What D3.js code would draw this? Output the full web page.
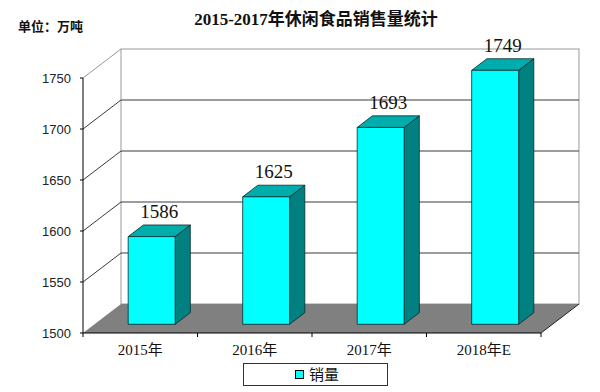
<!DOCTYPE html>
<meta charset="utf-8">
<style>
body { margin: 0; background: #fff; }
text { font-family: "Liberation Serif", "Noto Sans CJK SC", serif; }
.ytick { font-family: "Liberation Sans", Arial, sans-serif; font-size: 13px; fill: #222; }
.xlab { font-size: 15px; fill: #111; }
.val { font-size: 19px; fill: #111; }
</style>
<body>
<svg width="600" height="392"></svg>
<script src="https://cdn.jsdelivr.net/npm/d3@7/dist/d3.min.js"></script>
<script>
var years = ["2015年", "2016年", "2017年", "2018年E"];
var sales = [1586, 1625, 1693, 1749];
var yTicks = [1500, 1550, 1600, 1650, 1700, 1750];

var svg = d3.select("svg");

// front plane of the 3d box, depth shift to the back wall
var plotL = 83, plotR = 541, plotB = 333, plotT = 78;
var DX = 38, DY = -29;
var z0 = 0.3, z1 = 0.7; // bar depth inside the floor

var x = d3.scaleBand().domain(years).range([plotL, plotR]);
var y = d3.scaleLinear().domain([1500, 1750]).range([plotB, plotT]);

function pt(px, py, z) { return [px + DX * z, py + DY * z]; }
function poly(pts) { return pts.map(function(p) { return p.join(","); }).join(" "); }

// back wall
svg.append("rect")
    .attr("x", plotL + DX).attr("y", plotT + DY)
    .attr("width", plotR - plotL).attr("height", plotB - plotT)
    .attr("fill", "#fff").attr("stroke", "#999");

// gridlines on back wall and left wall
var grid = svg.append("g");
yTicks.slice(1, -1).forEach(function(v) {
  grid.append("line")
      .attr("x1", plotL + DX).attr("x2", plotR + DX)
      .attr("y1", y(v) + DY).attr("y2", y(v) + DY)
      .attr("stroke", "#3a3a3a");
});
yTicks.slice(1).forEach(function(v) {
  grid.append("line")
      .attr("x1", plotL).attr("y1", y(v))
      .attr("x2", plotL + DX).attr("y2", y(v) + DY)
      .attr("stroke", v === 1750 ? "#999" : "#3a3a3a");
});

// floor
svg.append("polygon")
    .attr("points", poly([[plotL, plotB], [plotR, plotB], pt(plotR, plotB, 1), pt(plotL, plotB, 1)]))
    .attr("fill", "#808080");
svg.append("line")
    .attr("x1", plotR).attr("y1", plotB)
    .attr("x2", plotR + DX).attr("y2", plotB + DY)
    .attr("stroke", "#222");

// axes
svg.append("line").attr("x1", plotL).attr("x2", plotL).attr("y1", plotB).attr("y2", plotT).attr("stroke", "#000");
svg.append("line").attr("x1", plotL).attr("x2", plotR).attr("y1", plotB).attr("y2", plotB).attr("stroke", "#000");
yTicks.forEach(function(v) {
  svg.append("line").attr("x1", plotL - 3).attr("x2", plotL).attr("y1", y(v)).attr("y2", y(v)).attr("stroke", "#000");
  svg.append("text").attr("class", "ytick")
      .attr("x", 71).attr("y", y(v) + 5)
      .attr("text-anchor", "end").text(v);
});
years.forEach(function(c) {
  svg.append("line").attr("x1", x(c) + x.bandwidth()).attr("x2", x(c) + x.bandwidth())
      .attr("y1", plotB).attr("y2", plotB + 4).attr("stroke", "#000");
});
svg.append("line").attr("x1", plotL).attr("x2", plotL).attr("y1", plotB).attr("y2", plotB + 4).attr("stroke", "#000");

// bars
var bw = x.bandwidth() * 0.41;
var bars = svg.append("g").selectAll("g").data(years).enter().append("g");
bars.each(function(c, i) {
  var g = d3.select(this);
  var cx = x(c) + x.bandwidth() / 2;
  var xl = cx - bw / 2, xr = cx + bw / 2;
  var yt = y(sales[i]), yb = y(1500);
  var fl = pt(xl, yt, z0), fr = pt(xr, yt, z0), flb = pt(xl, yb, z0), frb = pt(xr, yb, z0);
  var bl = pt(xl, yt, z1), br = pt(xr, yt, z1), brb = pt(xr, yb, z1);
  g.append("polygon").attr("points", poly([fr, br, brb, frb]))
      .attr("fill", "#008080").attr("stroke", "#0a2a2a").attr("stroke-width", 0.8);
  g.append("polygon").attr("points", poly([fl, bl, br, fr]))
      .attr("fill", "#00adad").attr("stroke", "#0a2a2a").attr("stroke-width", 0.8);
  g.append("polygon").attr("points", poly([fl, fr, frb, flb]))
      .attr("fill", "#00ffff").attr("stroke", "#0a2a2a").attr("stroke-width", 0.8);
  g.append("text").attr("class", "val")
      .attr("x", (fl[0] + br[0]) / 2).attr("y", bl[1] - 7)
      .attr("text-anchor", "middle").text(sales[i]);
});

// category labels
svg.append("g").selectAll("text").data(years).enter().append("text")
    .attr("class", "xlab")
    .attr("x", function(d) { return x(d) + x.bandwidth() / 2; })
    .attr("y", 355)
    .attr("text-anchor", "middle")
    .text(function(d) { return d; });

// title and unit
svg.append("text").attr("x", 316).attr("y", 25).attr("text-anchor", "middle")
    .attr("font-size", 17).attr("font-weight", "bold").attr("fill", "#111")
    .text("2015-2017年休闲食品销售量统计");
svg.append("text").attr("x", 18).attr("y", 31)
    .attr("font-size", 13).attr("font-weight", "bold").attr("fill", "#111")
    .style("font-family", "'Noto Sans CJK SC', sans-serif")
    .text("单位：万吨");

// legend
var lg = svg.append("g");
lg.append("rect").attr("x", 243.5).attr("y", 363.5).attr("width", 144).attr("height", 22)
    .attr("fill", "#fff").attr("stroke", "#333");
lg.append("rect").attr("x", 295.5).attr("y", 370.5).attr("width", 8).attr("height", 8)
    .attr("fill", "#00ffff").attr("stroke", "#000");
lg.append("text").attr("x", 309).attr("y", 380).attr("font-size", 15).attr("fill", "#111")
    .style("font-family", "'Noto Sans CJK SC', sans-serif")
    .text("销量");
</script>
